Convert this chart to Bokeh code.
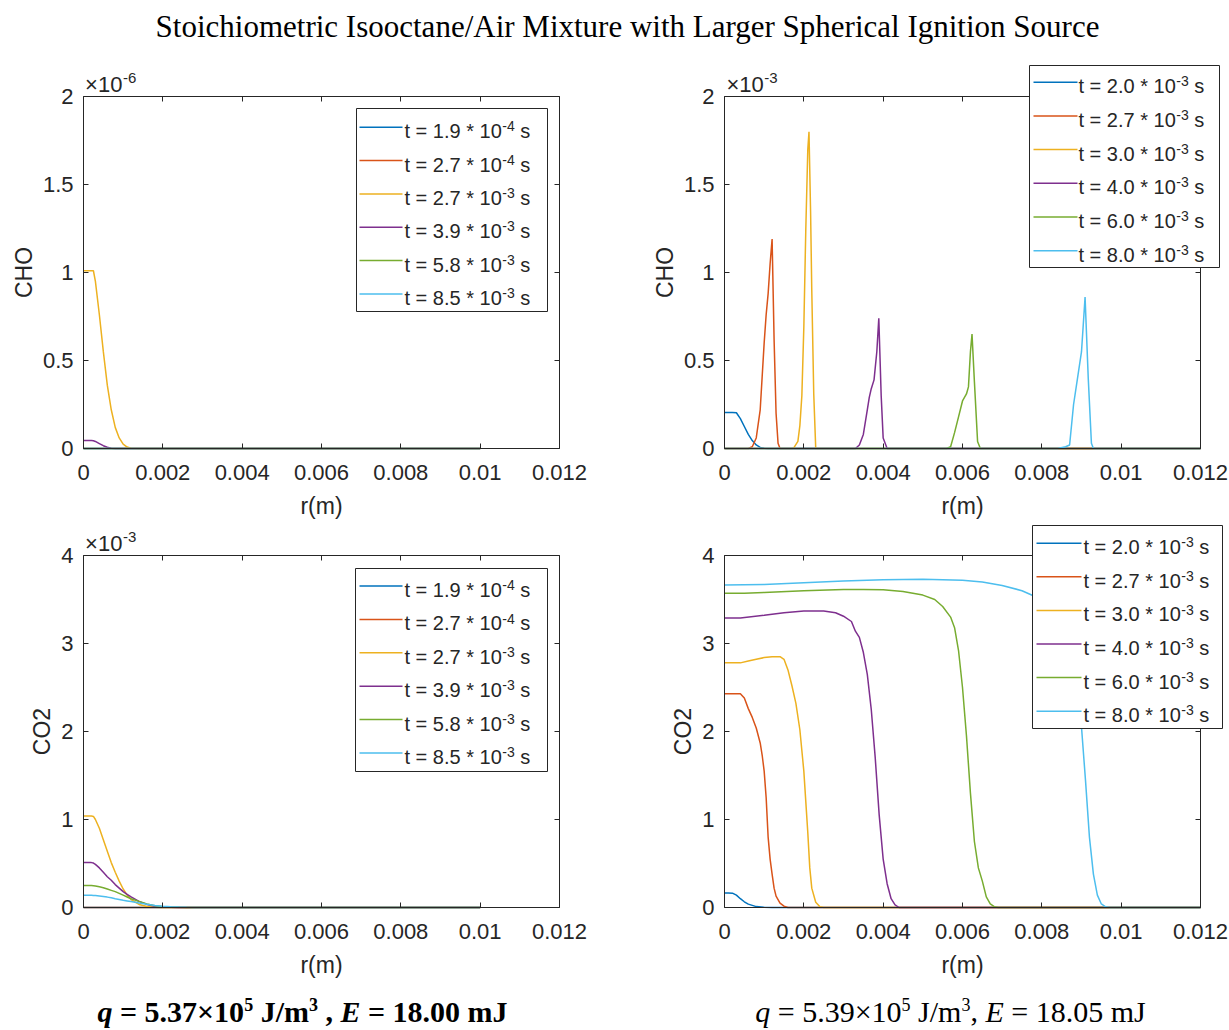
from bokeh.plotting import figure
from bokeh.models import (Range1d, LinearAxis, FixedTicker, Label, BoxAnnotation,
                          Arrow, PrintfTickFormatter)
from bokeh.layouts import column, row
from bokeh.embed import file_html
from bokeh.resources import INLINE

# ---------------- data ----------------
TITLE = "Stoichiometric Isooctane/Air Mixture with Larger Spherical Ignition Source"
X_TICKS = [0, 0.002, 0.004, 0.006, 0.008, 0.01, 0.012]
CHO_TICKS = [0, 0.5, 1, 1.5, 2]
CO2_TICKS = [0, 1, 2, 3, 4]
COLORS = ["#0072BD", "#D95319", "#EDB120", "#7E2F8E", "#77AC30", "#4DBEEE"]

left_times = ["1.9", "2.7", "2.7", "3.9", "5.8", "8.5"]
left_exps = ["-4", "-4", "-3", "-3", "-3", "-3"]
right_times = ["2.0", "2.7", "3.0", "4.0", "6.0", "8.0"]
right_exps = ["-3", "-3", "-3", "-3", "-3", "-3"]

# left column: r grid (m), values in units of 1e-6 (CHO) and 1e-3 (CO2)
r_left = [0, 0.0001, 0.0002, 0.00025, 0.0003, 0.0004, 0.0005, 0.0006, 0.0007, 0.0008,
          0.0009, 0.001, 0.0011, 0.0012, 0.0014, 0.0016, 0.0018, 0.002, 0.0022, 0.0024,
          0.0026, 0.0028, 0.003, 0.004, 0.005, 0.006, 0.007, 0.008, 0.009, 0.01]
cho_left_1 = [0] * 30
cho_left_2 = [0] * 30
cho_left_3 = [1.01, 1.01, 1.01, 1.01, 0.95, 0.76, 0.55, 0.36, 0.22, 0.12, 0.06, 0.025,
              0.008, 0.002, 0] + [0] * 15
cho_left_4 = [0.045, 0.045, 0.045, 0.044, 0.04, 0.028, 0.016, 0.007, 0.002, 0] + [0] * 20
cho_left_5 = [0] * 30
cho_left_6 = [0] * 30

co2_left_1 = [0] * 30
co2_left_2 = [0] * 30
co2_left_3 = [1.04, 1.04, 1.04, 1.035, 1.0, 0.9, 0.77, 0.64, 0.51, 0.40, 0.30, 0.21, 0.14,
              0.09, 0.035, 0.012, 0.004, 0.001] + [0] * 12
co2_left_4 = [0.51, 0.51, 0.51, 0.505, 0.49, 0.45, 0.40, 0.35, 0.31, 0.26, 0.22, 0.18, 0.15,
              0.12, 0.07, 0.035, 0.015, 0.006, 0.002, 0.0005] + [0] * 10
co2_left_5 = [0.25, 0.25, 0.25, 0.248, 0.245, 0.235, 0.225, 0.21, 0.195, 0.18, 0.16, 0.14,
              0.12, 0.10, 0.07, 0.04, 0.02, 0.009, 0.004, 0.0015, 0.0005] + [0] * 9
co2_left_6 = [0.14, 0.14, 0.138, 0.137, 0.135, 0.13, 0.125, 0.118, 0.11, 0.10, 0.092, 0.083,
              0.075, 0.067, 0.05, 0.036, 0.024, 0.015, 0.009, 0.005, 0.002, 0.0008,
              0.0003] + [0] * 7

# right column: CHO in units of 1e-3
cho_right_r1 = [0, 0.0001, 0.0002, 0.0003, 0.0004, 0.0005, 0.0006, 0.0007, 0.0008, 0.0009, 0.001, 0.0011, 0.012]
cho_right_v1 = [0.205, 0.205, 0.205, 0.203, 0.17, 0.125, 0.08, 0.045, 0.02, 0.006, 0.001, 0, 0]
cho_right_r2 = [0, 0.0006, 0.0007, 0.0008, 0.0009, 0.001, 0.00105, 0.0011, 0.00115, 0.0012, 0.00125, 0.0013, 0.00135, 0.0014, 0.012]
cho_right_v2 = [0, 0, 0.01, 0.06, 0.22, 0.6, 0.76, 0.88, 1.05, 1.19, 0.62, 0.2, 0.03, 0, 0]
cho_right_r3 = [0, 0.0017, 0.00175, 0.00185, 0.0019, 0.00195, 0.002, 0.00205, 0.0021, 0.00213, 0.00217, 0.0022, 0.00225, 0.0023, 0.012]
cho_right_v3 = [0, 0, 0.005, 0.04, 0.13, 0.3, 0.69, 1.25, 1.7, 1.8, 1.35, 0.9, 0.31, 0, 0]
cho_right_r4 = [0, 0.0033, 0.0034, 0.0035, 0.0036, 0.00365, 0.0037, 0.00377, 0.00384, 0.00389, 0.00395, 0.004, 0.0041, 0.012]
cho_right_v4 = [0, 0, 0.02, 0.08, 0.22, 0.29, 0.34, 0.39, 0.55, 0.74, 0.3, 0.06, 0, 0]
cho_right_r5 = [0, 0.0056, 0.0057, 0.0058, 0.0059, 0.006, 0.0061, 0.00615, 0.0062, 0.00624, 0.0063, 0.00638, 0.00645, 0.012]
cho_right_v5 = [0, 0, 0.01, 0.09, 0.18, 0.27, 0.31, 0.35, 0.55, 0.65, 0.38, 0.04, 0, 0]
cho_right_r6 = [0, 0.0084, 0.0086, 0.0087, 0.0088, 0.0089, 0.009, 0.00909, 0.00917, 0.00925, 0.0093, 0.012]
cho_right_v6 = [0, 0, 0.01, 0.02, 0.25, 0.4, 0.55, 0.86, 0.4, 0.03, 0, 0]

# right column: CO2
co2_right_r1 = [0, 0.0001, 0.0002, 0.0003, 0.0004, 0.0005, 0.0006, 0.0008, 0.001, 0.0012, 0.012]
co2_right_v1 = [0.165, 0.165, 0.163, 0.14, 0.1, 0.065, 0.038, 0.01, 0.002, 0, 0]
co2_right_r2 = [0, 0.0002, 0.0004, 0.0005, 0.0006, 0.0007, 0.0008, 0.0009, 0.00095, 0.001, 0.00105, 0.0011, 0.00115, 0.0012, 0.00125, 0.0013, 0.0014, 0.0015, 0.0016, 0.012]
co2_right_v2 = [2.43, 2.43, 2.43, 2.38, 2.26, 2.16, 2.04, 1.87, 1.73, 1.55, 1.25, 0.8, 0.55, 0.38, 0.22, 0.13, 0.05, 0.015, 0.0, 0]
co2_right_r3 = [0, 0.0002, 0.0004, 0.0006, 0.0008, 0.001, 0.0012, 0.0014, 0.0015, 0.0016, 0.0017, 0.0018, 0.0019, 0.002, 0.00205, 0.0021, 0.00215, 0.0022, 0.0023, 0.0024, 0.0025, 0.012]
co2_right_v3 = [2.78, 2.78, 2.78, 2.8, 2.82, 2.84, 2.85, 2.85, 2.82, 2.7, 2.52, 2.32, 2.02, 1.55, 1.2, 0.85, 0.45, 0.22, 0.06, 0.01, 0, 0]
co2_right_r4 = [0, 0.0004, 0.001, 0.0015, 0.002, 0.0025, 0.0028, 0.003, 0.0032, 0.0033, 0.0034, 0.0035, 0.0036, 0.0037, 0.0038, 0.0039, 0.004, 0.0041, 0.0042, 0.0043, 0.0044, 0.012]
co2_right_v4 = [3.29, 3.29, 3.32, 3.35, 3.37, 3.37, 3.35, 3.31, 3.25, 3.14, 3.07, 2.9, 2.65, 2.25, 1.7, 1.05, 0.55, 0.27, 0.1, 0.03, 0, 0]
co2_right_r5 = [0, 0.0005, 0.001, 0.002, 0.003, 0.0035, 0.004, 0.0045, 0.005, 0.0053, 0.0055, 0.0057, 0.0058, 0.0059, 0.006, 0.0061, 0.0062, 0.0063, 0.0064, 0.0065, 0.0066, 0.0067, 0.0068, 0.0069, 0.012]
co2_right_v5 = [3.57, 3.57, 3.58, 3.6, 3.615, 3.615, 3.61, 3.59, 3.55, 3.5, 3.42, 3.3, 3.18, 2.92, 2.5, 1.95, 1.3, 0.75, 0.45, 0.3, 0.12, 0.04, 0.01, 0, 0]
co2_right_r6 = [0, 0.001, 0.002, 0.003, 0.004, 0.005, 0.006, 0.0065, 0.007, 0.0075, 0.008, 0.0083, 0.0086, 0.0088, 0.009, 0.0091, 0.0092, 0.0093, 0.0094, 0.0095, 0.0096, 0.0097, 0.012]
co2_right_v6 = [3.665, 3.67, 3.69, 3.71, 3.725, 3.73, 3.72, 3.70, 3.66, 3.6, 3.5, 3.4, 3.2, 2.8, 2.05, 1.45, 0.8, 0.38, 0.14, 0.04, 0.01, 0, 0]

# ---------------- styling helpers ----------------
INK = "#262626"
SANS = "Liberation Sans"
SERIF = "Liberation Serif"
TICK_PX = 22
LEG_PX = 20
SUP_PX = 14
MID = 0.35   # baseline sits this many em below the "middle" anchor

ARIAL = {' ': 278, 't': 278, '=': 584, '.': 278, '*': 389, '-': 333, 's': 500, '×': 584}
TIMES_B = {' ': 250, '=': 570, '.': 250, '×': 570, 'J': 500, '/': 278, 'm': 833, ',': 250, 'q': 500, 'E': 667}
TIMES_R = {' ': 250, '=': 564, '.': 250, '×': 564, 'J': 389, '/': 278, 'm': 778, ',': 250, 'q': 500, 'E': 611}
for _d in "0123456789":
    ARIAL[_d] = 556
    TIMES_B[_d] = 500
    TIMES_R[_d] = 500


def tw(s, table, size):
    return sum(table.get(c, 500) for c in s) / 1000.0 * size


def text_at(p, conv, px, base, text, font, size, style="normal", color=INK, align="left"):
    """Place text so that its baseline lies at pixel row `base`."""
    X, Y = conv
    p.add_layout(Label(x=X(px), y=Y(base - MID * size), text=text, text_font=font,
                       text_font_size="%dpx" % size, text_font_style=style,
                       text_color=color, text_align=align, text_baseline="middle"))


BOX_W = 476


def panel(x0, y0, w, h, box_l, box_t, box_b, ymax, yticks, ylabel):
    """Figure whose frame fills the whole canvas; the MATLAB-like axes box is
    drawn by fixed-location axes at the data limits."""
    box_h = box_b - box_t
    X = lambda px: (px - box_l) / BOX_W * 0.012
    Y = lambda py: (box_b - py) / box_h * ymax
    p = figure(width=w, height=h,
               x_range=Range1d(X(x0), X(x0 + w)), y_range=Range1d(Y(y0 + h), Y(y0)),
               output_backend="svg", toolbar_location=None, min_border=0)
    p.xgrid.visible = False
    p.ygrid.visible = False
    p.outline_line_color = None
    p.background_fill_color = "white"
    p.border_fill_color = "white"

    xa, ya = p.xaxis[0], p.yaxis[0]
    xa.fixed_location = 0
    ya.fixed_location = 0
    xa.bounds = (0, 0.012)
    ya.bounds = (0, ymax)
    xa.ticker = FixedTicker(ticks=X_TICKS)
    ya.ticker = FixedTicker(ticks=yticks)
    xa.formatter = PrintfTickFormatter(format="%g")
    ya.formatter = PrintfTickFormatter(format="%g")
    for ax in (xa, ya):
        ax.major_tick_in = 5
        ax.major_tick_out = 0
        ax.minor_tick_line_color = None
        ax.axis_line_color = INK
        ax.major_tick_line_color = INK
        ax.major_label_text_font = SANS
        ax.major_label_text_font_size = "%dpx" % TICK_PX
        ax.major_label_text_color = INK
        ax.axis_label_text_font = SANS
        ax.axis_label_text_font_size = "23px"
        ax.axis_label_text_font_style = "normal"
        ax.axis_label_text_color = INK
    xa.axis_label = "r(m)"
    ya.axis_label = ylabel
    xa.major_label_standoff = 16
    xa.axis_label_standoff = 10
    ya.major_label_standoff = 10
    ya.axis_label_standoff = 3

    top = LinearAxis(fixed_location=ymax, bounds=(0, 0.012), ticker=FixedTicker(ticks=X_TICKS),
                     major_label_text_color=None, major_tick_in=5, major_tick_out=0,
                     minor_tick_line_color=None, axis_line_color=INK, major_tick_line_color=INK)
    right = LinearAxis(fixed_location=0.012, bounds=(0, ymax), ticker=FixedTicker(ticks=yticks),
                       major_label_text_color=None, major_tick_in=5, major_tick_out=0,
                       minor_tick_line_color=None, axis_line_color=INK, major_tick_line_color=INK)
    p.add_layout(top, "above")
    p.add_layout(right, "right")
    return p, (X, Y)


def add_legend(p, conv, box, y0, dy, lx0, lx1, tx, times, exps):
    X, Y = conv
    L, T, R, B = box
    p.add_layout(BoxAnnotation(left=X(L), right=X(R), top=Y(T), bottom=Y(B),
                               fill_color="white", fill_alpha=1.0,
                               line_color=INK, line_width=1, line_alpha=1.0))
    for i, (t, e) in enumerate(zip(times, exps)):
        yl = y0 + dy * i
        p.add_layout(Arrow(x_start=X(lx0), y_start=Y(yl), x_end=X(lx1), y_end=Y(yl),
                           end=None, line_color=COLORS[i], line_width=1.5))
        main = "t = %s * 10" % t
        text_at(p, conv, tx, yl + 11, main, SANS, LEG_PX)
        xs = tx + tw(main, ARIAL, LEG_PX) + 0.5
        text_at(p, conv, xs, yl + 4, e, SANS, SUP_PX)
        xsp = xs + tw(e, ARIAL, SUP_PX) + tw(" ", ARIAL, LEG_PX)
        text_at(p, conv, xsp, yl + 11, "s", SANS, LEG_PX)


def add_exponent(p, conv, px, base, exp_text):
    main = "×10"
    text_at(p, conv, px, base, main, SANS, 22)
    xs = px + tw(main, ARIAL, 22) + 0.5
    text_at(p, conv, xs, base - 9, exp_text, SANS, 15)


def draw(p, xs_list, ys_list):
    for xs, ys, c in zip(xs_list, ys_list, COLORS):
        p.line(xs, ys, line_color=c, line_width=1.5)


# ---------------- panels ----------------
tl, cv_tl = panel(0, 60, 640, 460, 83, 96, 448, 2, CHO_TICKS, "CHO")
draw(tl, [r_left] * 6, [cho_left_1, cho_left_2, cho_left_3, cho_left_4, cho_left_5, cho_left_6])
add_exponent(tl, cv_tl, 84.6, 92, "-6")
add_legend(tl, cv_tl, (356, 108, 547, 311), 126.7, 33.35, 359, 402, 404, left_times, left_exps)

tr, cv_tr = panel(640, 60, 589, 460, 724, 96, 448, 2, CHO_TICKS, "CHO")
draw(tr, [cho_right_r1, cho_right_r2, cho_right_r3, cho_right_r4, cho_right_r5, cho_right_r6],
     [cho_right_v1, cho_right_v2, cho_right_v3, cho_right_v4, cho_right_v5, cho_right_v6])
add_exponent(tr, cv_tr, 726, 92, "-3")
add_legend(tr, cv_tr, (1029, 65, 1219, 267), 81.7, 33.7, 1033, 1077, 1078, right_times, right_exps)

bl, cv_bl = panel(0, 520, 640, 460, 83, 555, 907, 4, CO2_TICKS, "CO2")
draw(bl, [r_left] * 6, [co2_left_1, co2_left_2, co2_left_3, co2_left_4, co2_left_5, co2_left_6])
add_exponent(bl, cv_bl, 84.6, 551, "-3")
add_legend(bl, cv_bl, (355, 568, 547, 771), 585.5, 33.4, 359, 402, 404, left_times, left_exps)

br, cv_br = panel(640, 520, 589, 460, 724, 555, 907, 4, CO2_TICKS, "CO2")
draw(br, [co2_right_r1, co2_right_r2, co2_right_r3, co2_right_r4, co2_right_r5, co2_right_r6],
     [co2_right_v1, co2_right_v2, co2_right_v3, co2_right_v4, co2_right_v5, co2_right_v6])
add_legend(br, cv_br, (1032, 525, 1222, 728), 542.7, 33.6, 1036, 1081, 1083, right_times, right_exps)


# ---------------- title and captions ----------------
def text_fig(x0, y0, w, h):
    f = figure(width=w, height=h, x_range=Range1d(x0, x0 + w), y_range=Range1d(0, h),
               min_border=0, toolbar_location=None, output_backend="svg",
               x_axis_location=None, y_axis_location=None)
    f.outline_line_color = None
    f.grid.visible = False
    conv = (lambda px: px, lambda py: y0 + h - py)
    return f, conv


title_fig, cv_title = text_fig(0, 0, 1229, 60)
text_at(title_fig, cv_title, 627, 37, TITLE, SERIF, 31, color="black", align="center")

cap_fig, cv_cap = text_fig(0, 980, 1229, 50)


def caption(segments, center, table, base):
    total = sum(tw(s, table, sz) for s, st, sz, dy in segments)
    x = center - total / 2.0
    for s, st, sz, dy in segments:
        lead = len(s) - len(s.lstrip(" "))
        txt = s.strip(" ")
        if txt:
            text_at(cap_fig, cv_cap, x + tw(s[:lead], table, sz), base - dy, txt, SERIF, sz,
                    style=st, color="black")
        x += tw(s, table, sz)


caption([("q", "bold italic", 30, 0), (" = 5.37×10", "bold", 30, 0), ("5", "bold", 18, 11),
         (" J/m", "bold", 30, 0), ("3", "bold", 18, 11), (" , ", "bold", 30, 0),
         ("E", "bold italic", 30, 0), (" = 18.00 mJ", "bold", 30, 0)], 302, TIMES_B, 1021)
caption([("q", "italic", 30, 0), (" = 5.39×10", "normal", 30, 0), ("5", "normal", 18, 11),
         (" J/m", "normal", 30, 0), ("3", "normal", 18, 11), (", ", "normal", 30, 0),
         ("E", "italic", 30, 0), (" = 18.05 mJ", "normal", 30, 0)], 950, TIMES_R, 1021)

layout = column(title_fig, row(tl, tr), row(bl, br), cap_fig)
open("out.html", "w").write(file_html(layout, INLINE))
